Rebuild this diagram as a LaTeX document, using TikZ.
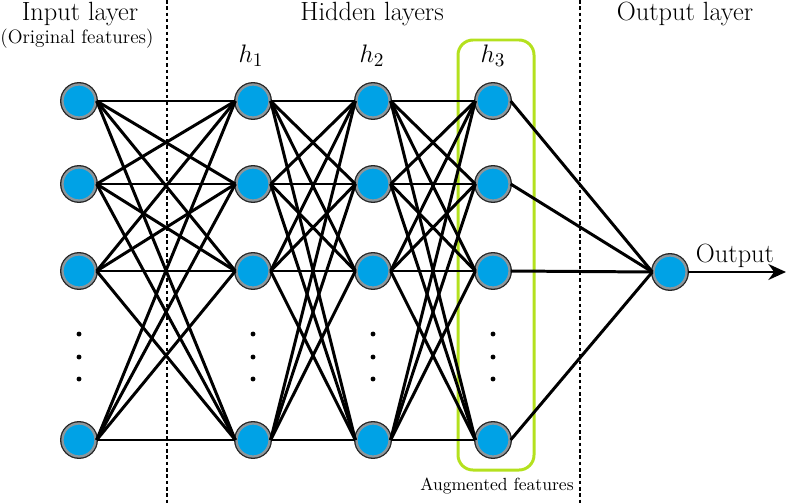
\documentclass[tikz,border=0pt]{standalone}
\usepackage{fontspec}
\usetikzlibrary{arrows.meta}

\definecolor{neuronblue}{RGB}{0,162,230}
\definecolor{ringgray}{RGB}{140,150,155}
\definecolor{boxgreen}{RGB}{180,225,30}

\tikzset{
  neuron/.style={circle, minimum size=0.66cm, inner sep=0pt, fill=neuronblue,
    draw=ringgray, line width=1.3pt, preaction={draw=black!85, line width=2.8pt}},
  conn/.style={line width=1.7pt},
  sepline/.style={line width=0.9pt, dash pattern=on 2pt off 1.6pt},
  title/.style={anchor=base, font=\fontsize{15}{17}\selectfont},
}

\begin{document}
\begin{tikzpicture}[x=0.02cm, y=-0.02cm]
    \useasboundingbox (0,0) rectangle (793,503);

    % layer separators
    \draw[sepline] (167,0) -- (167,503);
    \draw[sepline] (580,0) -- (580,503);

    % titles
    \node[title] (tin) at (80,21) {Input layer};
    \node[anchor=base, font=\fontsize{11}{13}\selectfont] (torig) at (77,44) {(Original features)};
    \node[title] (thid) at (372,21) {Hidden layers};
    \node[title] (tout) at (685,21) {Output layer};

    \node[title] (lh1) at (251,63) {$h_1$};
    \node[title] (lh2) at (372,63) {$h_2$};
    \node[title] (lh3) at (493,63) {$h_3$};

    % box round h3
    \draw[boxgreen, line width=1.7pt, rounded corners=0.3cm] (458,40) rectangle (534,470);
    \node[anchor=base, font=\fontsize{10}{12}\selectfont] (taug) at (497,490) {Augmented features};

    % neurons
    \foreach \c/\x in {in/79, ha/253, hb/373, hc/493} {
        \foreach \r/\y in {1/101, 2/184, 3/271, 4/440}
            \node[neuron] (\c\r) at (\x,\y) {};
        \foreach \y in {334, 357, 379}
            \fill (\x,\y) circle[radius=1.4pt];
    }
    \node[neuron] (outn) at (670,272) {};

    % connections
    \foreach \a/\b in {in/ha, ha/hb, hb/hc}
        \foreach \i in {1,...,4}
            \foreach \j in {1,...,4}
                \draw[conn] (\a\i.east) -- (\b\j.west);
    \foreach \i in {1,...,4}
        \draw[conn] (hc\i.east) -- (outn.west);

    \coordinate (tip) at (786,272);
    \draw[conn, -{Stealth[length=10pt, width=9pt]}] (outn.east) -- (tip);
    \node[title] (tlab) at (735,262) {Output};
\end{tikzpicture}
\end{document}
